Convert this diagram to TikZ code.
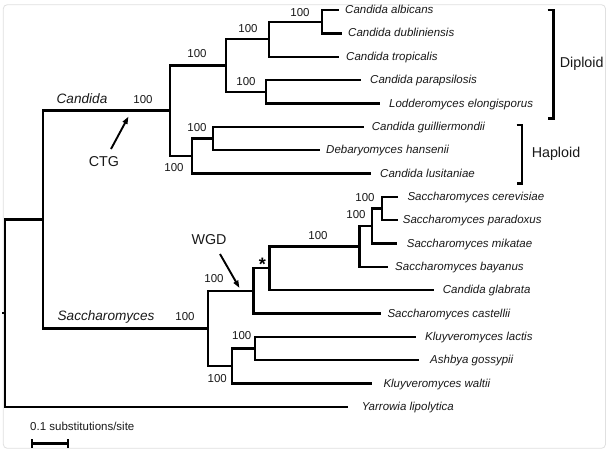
\documentclass[tikz,border=0pt]{standalone}
\usepackage{fontspec}
\setmainfont{Liberation Sans}
\usetikzlibrary{arrows.meta}
\begin{document}
\begin{tikzpicture}[x=1pt,y=-1pt,
  branch/.style={line width=2.4pt, line cap=rect},
  sp/.style={font=\fontsize{11.5}{13}\selectfont\itshape, inner sep=0pt, anchor=west, text height=8.2pt, text depth=0pt, text=black!90},
  bs/.style={font=\fontsize{11.5}{13}\selectfont, inner sep=0pt, text=black!90},
  big/.style={font=\fontsize{14.3}{16}\selectfont, inner sep=0pt, text=black!90},
  clade/.style={font=\fontsize{13.6}{16}\selectfont\itshape, inner sep=0pt, text=black!90},
  pointer/.style={line width=1.9pt, -{Triangle[length=7.5pt,width=5pt]}},
  brk/.style={line width=2.4pt}
]
\fill[white] (0,0) rectangle (609,451);
\useasboundingbox (0,0) rectangle (609,451);
\draw[black!12, line width=0.8pt, rounded corners=4pt] (3.3,4.7) rectangle (605.5,448.3);

% internal nodes
\coordinate (R0) at (3,313.2);
\coordinate (R) at (5,313.2);
\coordinate (A) at (43,219.5);
\coordinate (C) at (170,110.6);
\coordinate (D) at (226,65.4);
\coordinate (D1) at (269,39.2);
\coordinate (D11) at (322,21.7);
\coordinate (D2) at (266,91.7);
\coordinate (H) at (192,155.9);
\coordinate (H1) at (213,138.4);
\coordinate (S) at (207.7,328.4);
\coordinate (S1) at (253.3,290.8);
\coordinate (S11) at (269.3,268.2);
\coordinate (S111) at (359.3,246.3);
\coordinate (S1111) at (371.7,225.9);
\coordinate (S11111) at (381.7,208.4);
\coordinate (S2) at (231.7,366);
\coordinate (S21) at (255,348.5);

% leaf tips
\coordinate (t0) at (338,10);
\coordinate (t1) at (341,33.3);
\coordinate (t2) at (338,56.7);
\coordinate (t3) at (360,80);
\coordinate (t4) at (379,103.4);
\coordinate (t5) at (363,126.7);
\coordinate (t6) at (319,150);
\coordinate (t7) at (370,173.4);
\coordinate (t8) at (396.7,196.7);
\coordinate (t9) at (396.7,220.1);
\coordinate (t10) at (396,243.4);
\coordinate (t11) at (386.7,266.7);
\coordinate (t12) at (432.7,290.1);
\coordinate (t13) at (380,313.4);
\coordinate (t14) at (414.3,336.8);
\coordinate (t15) at (417.7,360.1);
\coordinate (t16) at (370.7,383.4);
\coordinate (t17) at (346.7,406.8);

% branches
\draw[branch] (R0) -- (R);
\draw[branch] (R) |- (A);
\draw[branch] (R) |- (t17);
\draw[branch] (A) |- (C);
\draw[branch] (A) |- (S);
\draw[branch] (C) |- (D);
\draw[branch] (C) |- (H);
\draw[branch] (D) |- (D1);
\draw[branch] (D) |- (D2);
\draw[branch] (D1) |- (D11);
\draw[branch] (D1) |- (t2);
\draw[branch] (D11) |- (t0);
\draw[branch] (D11) |- (t1);
\draw[branch] (D2) |- (t3);
\draw[branch] (D2) |- (t4);
\draw[branch] (H) |- (H1);
\draw[branch] (H) |- (t7);
\draw[branch] (H1) |- (t5);
\draw[branch] (H1) |- (t6);
\draw[branch] (S) |- (S1);
\draw[branch] (S) |- (S2);
\draw[branch] (S1) |- (S11);
\draw[branch] (S1) |- (t13);
\draw[branch] (S11) |- (S111);
\draw[branch] (S11) |- (t12);
\draw[branch] (S111) |- (S1111);
\draw[branch] (S111) |- (t11);
\draw[branch] (S1111) |- (S11111);
\draw[branch] (S1111) |- (t10);
\draw[branch] (S11111) |- (t8);
\draw[branch] (S11111) |- (t9);
\draw[branch] (S2) |- (S21);
\draw[branch] (S2) |- (t16);
\draw[branch] (S21) |- (t14);
\draw[branch] (S21) |- (t15);

% leaf labels
\node[sp] (l0) at (345,9.5) {Candida albicans};
\node[sp] (l1) at (348,32.8) {Candida dubliniensis};
\node[sp] (l2) at (346,56.2) {Candida tropicalis};
\node[sp] (l3) at (370,79.5) {Candida parapsilosis};
\node[sp] (l4) at (389,102.9) {Lodderomyces elongisporus};
\node[sp] (l5) at (371.7,126.2) {Candida guilliermondii};
\node[sp] (l6) at (326,149.5) {Debaryomyces hansenii};
\node[sp] (l7) at (380,172.9) {Candida lusitaniae};
\node[sp] (l8) at (407.3,196.2) {Saccharomyces cerevisiae};
\node[sp] (l9) at (402.7,219.6) {Saccharomyces paradoxus};
\node[sp] (l10) at (406.7,242.9) {Saccharomyces mikatae};
\node[sp] (l11) at (395,266.2) {Saccharomyces bayanus};
\node[sp] (l12) at (442.7,289.6) {Candida glabrata};
\node[sp] (l13) at (387.3,312.9) {Saccharomyces castellii};
\node[sp] (l14) at (425,336.3) {Kluyveromyces lactis};
\node[sp] (l15) at (430,359.6) {Ashbya gossypii};
\node[sp] (l16) at (383.3,382.9) {Kluyveromyces waltii};
\node[sp] (l17) at (361.7,406.3) {Yarrowia lipolytica};

% bootstrap values
\node[bs] (b1) at (300,13) {100};
\node[bs] (b2) at (248,29) {100};
\node[bs] (b3) at (197,54) {100};
\node[bs] (b4) at (246,82) {100};
\node[bs] (b5) at (143,99.5) {100};
\node[bs] (b6) at (197,128) {100};
\node[bs] (b7) at (174,167.5) {100};
\node[bs] (b8) at (365,197.3) {100};
\node[bs] (b9) at (356,215) {100};
\node[bs] (b10) at (318,236) {100};
\node[bs] (b11) at (214,279) {100};
\node[bs] (b12) at (185,316.7) {100};
\node[bs] (b13) at (241.7,335.3) {100};
\node[bs] (b14) at (217.3,379) {100};
\node[font=\fontsize{18}{20}\selectfont\bfseries, inner sep=0pt] (star) at (262.3,264) {*};

% clade names
\node[clade] (cand) at (82,99) {Candida};
\node[clade] (sacc) at (106,316.7) {Saccharomyces};

% events
\node[big] (ctg) at (104,162) {CTG};
\coordinate (ctgs) at (111,149);
\coordinate (ctge) at (128.5,116.5);
\draw[pointer] (ctgs) -- (ctge);
\node[big] (wgd) at (209,239.3) {WGD};
\coordinate (wgds) at (220,254);
\coordinate (wgde) at (239.5,288);
\draw[pointer] (wgds) -- (wgde);

% ploidy brackets
\coordinate (dp1) at (547.5,10);
\coordinate (dp2) at (547.5,118.3);
\draw[brk] (dp1) -- ++(6,0) |- (dp2);
\node[big] (dip) at (581.7,63.3) {Diploid};
\coordinate (hp1) at (516.5,125);
\coordinate (hp2) at (516.5,183.3);
\draw[brk] (hp1) -- ++(5.5,0) |- (hp2);
\node[big] (hap) at (556,153.3) {Haploid};

% scale bar
\node[bs, anchor=west] (scl) at (30,426.7) {0.1 substitutions/site};
\coordinate (sb1) at (32.3,443.3);
\coordinate (sb2) at (68.3,443.3);
\draw[line width=2.4pt] (sb1) -- (sb2);
\draw[line width=1.8pt] ([yshift=-4.5pt]sb1) -- ([yshift=4.5pt]sb1);
\draw[line width=1.8pt] ([yshift=-4.5pt]sb2) -- ([yshift=4.5pt]sb2);
\end{tikzpicture}
\end{document}
